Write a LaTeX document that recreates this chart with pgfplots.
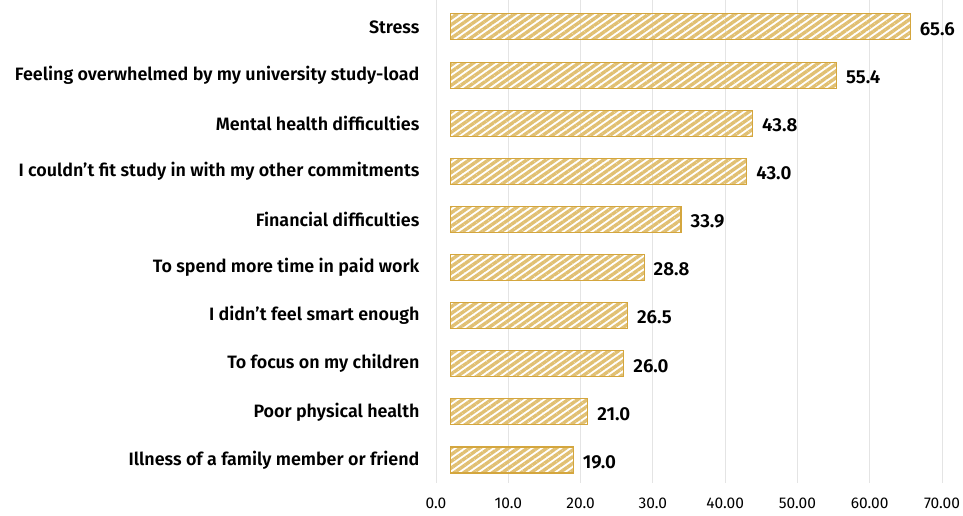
\documentclass[border=0pt]{standalone}
\usepackage{fontspec}
\setmainfont{Fira Sans}[BoldFont={* SemiBold}]
\usepackage{pgfplots}
\pgfplotsset{compat=1.18}
\usepackage{pgfplotstable}
\usetikzlibrary{patterns.meta}
\definecolor{goldfill}{RGB}{225,192,115}
\definecolor{goldline}{RGB}{212,166,62}
\definecolor{gridgray}{RGB}{228,228,228}

\pgfplotstableread[col sep=comma]{
idx,val,lab
0,65.6,65.6
1,55.4,55.4
2,43.8,43.8
3,43.0,43.0
4,33.9,33.9
5,28.8,28.8
6,26.5,26.5
7,26.0,26.0
8,21.0,21.0
9,19.0,19.0
}\datatable

\begin{document}
\begin{tikzpicture}
\begin{axis}[
  scale only axis, width=506pt, height=483pt,
  xmin=0, xmax=70, ymin=-0.56, ymax=9.48, y dir=reverse,
  xbar stacked, bar width=26pt,
  xtick={0,10,...,70},
  xticklabels={0.0,10.0,20.0,30.0,40.00,50.00,60.00,70.00},
  ytick={0,...,9},
  yticklabels={Stress,Feeling overwhelmed by my university study-load,Mental health difficulties,I couldn’t fit study in with my other commitments,Financial difficulties,To spend more time in paid work,I didn’t feel smart enough,To focus on my children,Poor physical health,Illness of a family member or friend},
  xmajorgrids, major grid style={gridgray, line width=0.8pt},
  major tick length=0, axis line style={draw=none},
  yticklabel style={font=\bfseries\fontsize{17.9}{20}\selectfont, xshift=-13pt},
  xticklabel style={font=\fontsize{15.5}{18}\selectfont, yshift=-11pt},
  clip=false,
]
\addplot[draw=none, fill=none] table[x expr=2, y=idx] {\datatable};
\addplot[draw=goldline, line width=1.1pt,
  pattern={Lines[angle=35,distance=5.5pt,line width=3.4pt]}, pattern color=goldfill]
  table[x expr=\thisrow{val}-2, y=idx] {\datatable};
\addplot[draw=none, fill=none,
  nodes near coords, point meta=explicit symbolic,
  nodes near coords style={font=\bfseries\fontsize{18.8}{20}\selectfont, anchor=west, xshift=6pt, yshift=-2pt, text=black}]
  table[x expr=0.001, y=idx, meta=lab] {\datatable};
\coordinate (BL) at (axis cs:-60.3,10.15);
\coordinate (TR) at (axis cs:72.9,-0.56);
\end{axis}
\pgfresetboundingbox
\path (BL) rectangle (TR);
\end{tikzpicture}
\end{document}
